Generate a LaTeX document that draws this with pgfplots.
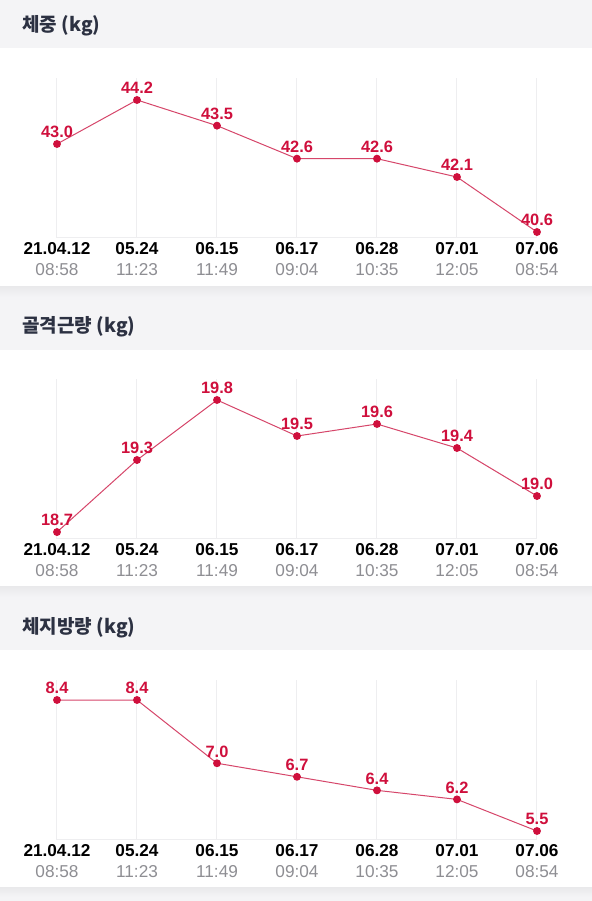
\documentclass[border=0pt]{standalone}
\usepackage{pgfplots}
\pgfplotsset{compat=1.18}
\usepackage{fontspec}
\setmainfont{Liberation Sans}
\newfontfamily\cjk{Noto Sans CJK KR}

\definecolor{linered}{HTML}{D6466A}
\definecolor{ptred}{HTML}{CF0F3C}
\definecolor{band}{HTML}{F4F4F6}
\definecolor{bandtop}{HTML}{EAEAEC}
\definecolor{gridc}{HTML}{EEEEF0}
\definecolor{timegray}{HTML}{8E8E93}
\definecolor{titlec}{HTML}{2C3142}

% one panel: 7 dated readings, px 57..537 across a 592 px wide card
\pgfplotsset{panel/.style={
    width=296pt, height=80pt, scale only axis, anchor=south west,
    xmin=-0.7125, xmax=6.6875,
    axis line style={draw=none}, ytick=\empty,
    xtick={0,...,6}, major tick length=0pt,
    xmajorgrids, grid style={gridc, line width=0.5pt},
    xticklabels={
      {\textbf{21.04.12}\\\textcolor{timegray}{08:58}},
      {\textbf{05.24}\\\textcolor{timegray}{11:23}},
      {\textbf{06.15}\\\textcolor{timegray}{11:49}},
      {\textbf{06.17}\\\textcolor{timegray}{09:04}},
      {\textbf{06.28}\\\textcolor{timegray}{10:35}},
      {\textbf{07.01}\\\textcolor{timegray}{12:05}},
      {\textbf{07.06}\\\textcolor{timegray}{08:54}}},
    xticklabel style={align=center, font=\fontsize{8.6}{10.5}\selectfont, inner sep=0pt, yshift=-2pt},
    clip=false,
  },
  series/.style={linered, line width=0.5pt, mark=*, mark size=1.7pt,
    mark options={draw=ptred, fill=ptred},
    point meta=explicit symbolic, nodes near coords,
    nodes near coords style={ptred, font=\bfseries\fontsize{8.2}{9}\selectfont,
      inner sep=0pt, anchor=base, yshift=3.1pt}},
}

\begin{document}
\begin{tikzpicture}
\path[use as bounding box] (0,0) rectangle (296pt,450.5pt);
\fill[white] (0,0) rectangle (296pt,450.5pt);
% header bands
\fill[band] (0,426.5pt) rectangle (296pt,450.5pt);
\fill[band] (0,275.5pt) rectangle (296pt,307pt);
\shade[top color=bandtop, bottom color=band] (0,302pt) rectangle (296pt,307pt);
\fill[band] (0,125.5pt) rectangle (296pt,157pt);
\shade[top color=bandtop, bottom color=band] (0,152pt) rectangle (296pt,157pt);
\fill[band] (0,0) rectangle (296pt,6.5pt);
\shade[top color=bandtop, bottom color=band] (0,2pt) rectangle (296pt,6.5pt);

\begin{scope}[every node/.style={anchor=west, inner sep=0pt, text=titlec, font=\cjk\bfseries\fontsize{9.5}{11}\selectfont}]
\node at (11pt,437.5pt) {체중 (kg)};
\node at (11pt,287pt) {골격근량 (kg)};
\node at (11pt,136.5pt) {체지방량 (kg)};
\end{scope}

\begin{axis}[panel, at={(0,331.5pt)}, ymin=40.437, ymax=44.80]
\draw[gridc, line width=0.5pt] (rel axis cs:0.0963,0) -- (rel axis cs:0.9071,0);
\addplot[series] coordinates {(0,43.0)[43.0] (1,44.2)[44.2] (2,43.5)[43.5] (3,42.6)[42.6] (4,42.6)[42.6] (5,42.1)[42.1] (6,40.6)[40.6]};
\end{axis}

\begin{axis}[panel, at={(0,181pt)}, ymin=18.642, ymax=19.975]
\draw[gridc, line width=0.5pt] (rel axis cs:0.0963,0) -- (rel axis cs:0.9071,0);
\addplot[series] coordinates {(0,18.7)[18.7] (1,19.3)[19.3] (2,19.8)[19.8] (3,19.5)[19.5] (4,19.6)[19.6] (5,19.4)[19.4] (6,19.0)[19.0]};
\end{axis}

\begin{axis}[panel, at={(0,30.5pt)}, ymin=5.301, ymax=8.843]
\draw[gridc, line width=0.5pt] (rel axis cs:0.0963,0) -- (rel axis cs:0.9071,0);
\addplot[series] coordinates {(0,8.4)[8.4] (1,8.4)[8.4] (2,7.0)[7.0] (3,6.7)[6.7] (4,6.4)[6.4] (5,6.2)[6.2] (6,5.5)[5.5]};
\end{axis}
\end{tikzpicture}
\end{document}
